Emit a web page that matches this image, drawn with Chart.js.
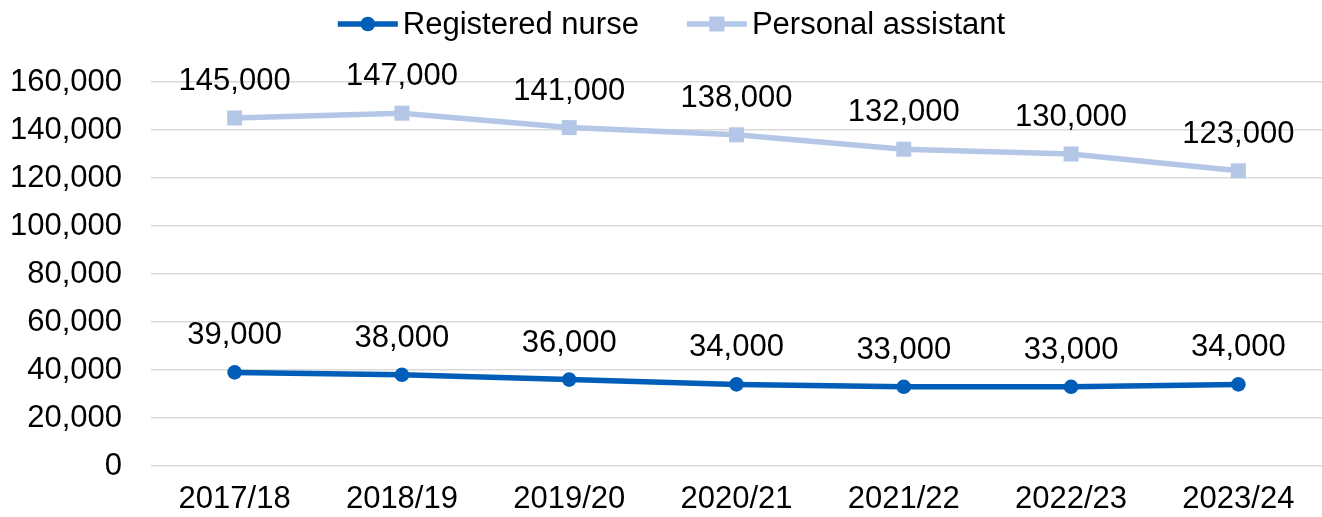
<!DOCTYPE html>
<html>
<head>
<meta charset="utf-8">
<script src="https://cdn.jsdelivr.net/npm/chart.js@4"></script>
<style>
html,body{margin:0;padding:0;background:#fff;overflow:hidden;}
#wrap{width:1322px;height:517px;position:relative;}
canvas{display:block;}
</style>
</head>
<body>
<div id="wrap"><canvas id="c" width="1322" height="517"></canvas></div>
<script>
const categories = ["2017/18","2018/19","2019/20","2020/21","2021/22","2022/23","2023/24"];
const nurseValues = [39000, 38000, 36000, 34000, 33000, 33000, 34000];
const paValues = [145000, 147000, 141000, 138000, 132000, 130000, 123000];
const seriesNames = ["Registered nurse", "Personal assistant"];
const yTicks = [0, 20000, 40000, 60000, 80000, 100000, 120000, 140000, 160000];

const FONT = "'Liberation Sans', Arial, sans-serif";
const FS = 31;
const NURSE = "#005EB8";
const PA = "#B4C7E7";

function fmt(v){ return v.toLocaleString('en-GB'); }

const labelPlugin = {
  id: 'dataLabels',
  afterDatasetsDraw(chart){
    const ctx = chart.ctx;
    ctx.save();
    ctx.font = FS + "px " + FONT;
    ctx.fillStyle = "#000";
    ctx.textAlign = "center";
    ctx.textBaseline = "middle";
    chart.data.datasets.forEach((ds, i) => {
      const meta = chart.getDatasetMeta(i);
      meta.data.forEach((pt, j) => {
        ctx.fillText(fmt(ds.data[j]), pt.x, pt.y - 36.5);
      });
    });
    ctx.restore();
  }
};

const legendPlugin = {
  id: 'customLegend',
  afterDraw(chart){
    const ctx = chart.ctx;
    ctx.save();
    ctx.font = FS + "px " + FONT;
    ctx.textBaseline = "middle";
    ctx.textAlign = "left";
    const sample = 60, gapText = 5, gapItem = 48;
    const items = chart.data.datasets.map(ds => ({ds, w: sample + gapText + ctx.measureText(ds.label).width}));
    const total = items.reduce((a, b) => a + b.w, 0) + gapItem * (items.length - 1);
    let x = 671.5 - total / 2;
    const y = 24;
    items.forEach(it => {
      const ds = it.ds;
      ctx.strokeStyle = ds.borderColor;
      ctx.lineWidth = ds.borderWidth;
      ctx.beginPath();
      ctx.moveTo(x, y);
      ctx.lineTo(x + sample, y);
      ctx.stroke();
      ctx.fillStyle = ds.backgroundColor;
      const cx = x + sample / 2;
      if (ds.pointStyle === 'rect') {
        ctx.fillRect(cx - 7.5, y - 7.5, 15, 15);
      } else {
        ctx.beginPath();
        ctx.arc(cx, y, 7.3, 0, Math.PI * 2);
        ctx.fill();
      }
      ctx.fillStyle = "#000";
      ctx.fillText(ds.label, x + sample + gapText, y + 1);
      x += it.w + gapItem;
    });
    ctx.restore();
  }
};

new Chart(document.getElementById('c'), {
  type: 'line',
  data: {
    labels: categories,
    datasets: [
      {
        label: seriesNames[0],
        data: nurseValues,
        borderColor: NURSE,
        backgroundColor: NURSE,
        borderWidth: 5.5,
        pointStyle: 'circle',
        pointRadius: 7.3,
        pointHoverRadius: 7.3,
        pointBorderWidth: 0,
        tension: 0,
        clip: false
      },
      {
        label: seriesNames[1],
        data: paValues,
        borderColor: PA,
        backgroundColor: PA,
        borderWidth: 5.5,
        pointStyle: 'rect',
        pointRadius: 10.6,
        pointHoverRadius: 10.6,
        pointBorderWidth: 0,
        tension: 0,
        clip: false
      }
    ]
  },
  options: {
    responsive: false,
    animation: false,
    devicePixelRatio: 1,
    layout: { autoPadding: false, padding: { top: 82, right: 0, bottom: 0, left: 0 } },
    plugins: {
      legend: { display: false },
      tooltip: { enabled: false }
    },
    scales: {
      x: {
        offset: true,
        grid: { display: false, drawTicks: false },
        border: { display: false },
        ticks: { font: { family: FONT, size: FS }, color: "#000", padding: 15, maxRotation: 0 },
        afterFit(s){ s.height = 51; s.paddingLeft = 0; s.paddingRight = 0; }
      },
      y: {
        min: 0,
        max: 160000,
        afterBuildTicks(s){ s.ticks = yTicks.map(v => ({value: v})); },
        grid: { color: "#D9D9D9", lineWidth: 1.5, drawTicks: false },
        border: { display: false },
        ticks: {
          font: { family: FONT, size: FS },
          color: "#000",
          padding: 29,
          callback: v => fmt(v)
        },
        afterFit(s){ s.width = 151; }
      }
    }
  },
  plugins: [labelPlugin, legendPlugin]
});
</script>
</body>
</html>
